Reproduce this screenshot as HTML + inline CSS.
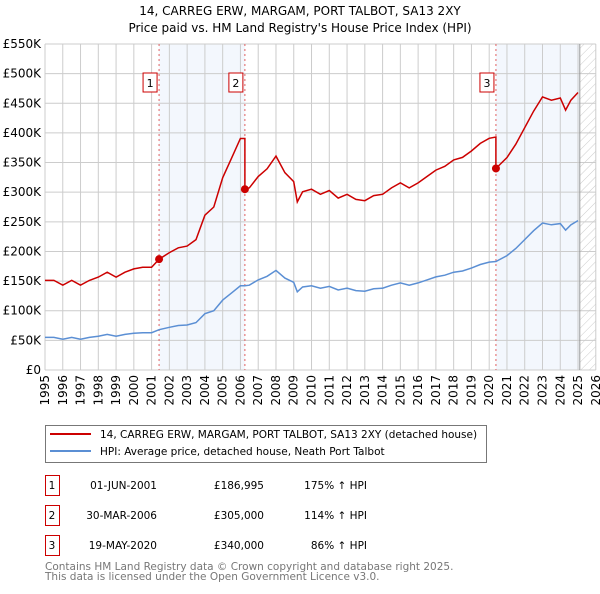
<!DOCTYPE html>
<html><head><meta charset="utf-8"><style>
body{margin:0;background:#fff;font-family:"DejaVu Sans","Liberation Sans",sans-serif}
</style></head><body>
<svg id="s" width="600" height="590" viewBox="0 0 600 590" xmlns="http://www.w3.org/2000/svg" font-family="DejaVu Sans, Liberation Sans, sans-serif">
<text x="300" y="15" font-size="12" text-anchor="middle">14, CARREG ERW, MARGAM, PORT TALBOT, SA13 2XY</text>
<text x="300" y="32" font-size="12" text-anchor="middle">Price paid vs. HM Land Registry's House Price Index (HPI)</text>
<g id="plot"></g>
<g>
<rect x="45.5" y="425.5" width="441" height="37" fill="#fff" stroke="#777"/>
<line x1="50" y1="434" x2="91" y2="434" stroke="#cc0000" stroke-width="2"/>
<text x="100" y="438" font-size="10.5">14, CARREG ERW, MARGAM, PORT TALBOT, SA13 2XY (detached house)</text>
<line x1="50" y1="451" x2="91" y2="451" stroke="#5b8fd4" stroke-width="2"/>
<text x="100" y="455" font-size="10.5">HPI: Average price, detached house, Neath Port Talbot</text>
</g>
<g id="table" font-size="10.5"></g>
<text x="45" y="570" font-size="10.5" fill="#777">Contains HM Land Registry data © Crown copyright and database right 2025.</text>
<text x="45" y="580" font-size="10.5" fill="#777">This data is licensed under the Open Government Licence v3.0.</text>
</svg>
<script>
const hpiYears=[1995,1995.5,1996,1996.5,1997,1997.5,1998,1998.5,1999,1999.5,2000,2000.5,2001,2001.42,2002,2002.5,2003,2003.5,2004,2004.5,2005,2005.5,2006,2006.25,2006.5,2007,2007.5,2008,2008.5,2009,2009.2,2009.5,2010,2010.5,2011,2011.5,2012,2012.5,2013,2013.5,2014,2014.5,2015,2015.5,2016,2016.5,2017,2017.5,2018,2018.5,2019,2019.5,2020,2020.38,2021,2021.5,2022,2022.5,2023,2023.5,2024,2024.3,2024.6,2025];
const hpiValues=[55,55,52,55,52,55,57,60,57,60,62,63,63,68,72,75,76,80,95,100,118,130,142,142,143,152,158,168,155,148,132,140,142,138,141,135,138,134,133,137,138,143,147,143,147,152,157,160,165,167,172,178,182,183,193,205,220,235,248,245,247,236,245,252];
const saleYears=[2001.42,2006.25,2020.38];
const salePrices=[186.995,305,340];
const saleLabels=["1","2","3"];
const saleDates=["01-JUN-2001","30-MAR-2006","19-MAY-2020"];
const salePriceText=["£186,995","£305,000","£340,000"];
const saleHpiText=["175% ↑ HPI","114% ↑ HPI","86% ↑ HPI"];
const yTicks=[0,50,100,150,200,250,300,350,400,450,500,550];
const yTickLabels=["£0","£50K","£100K","£150K","£200K","£250K","£300K","£350K","£400K","£450K","£500K","£550K"];
const xTicks=[1995,1996,1997,1998,1999,2000,2001,2002,2003,2004,2005,2006,2007,2008,2009,2010,2011,2012,2013,2014,2015,2016,2017,2018,2019,2020,2021,2022,2023,2024,2025,2026];

const NS="http://www.w3.org/2000/svg";
const X0=45,X1=595.8,Y0=370,Y1=44;
const x=v=>X0+(v-1995)/(2026-1995)*(X1-X0);
const y=v=>Y0-(v/550)*(Y0-Y1);
const plot=document.getElementById('plot');
function mk(tag,attrs,parent){const e=document.createElementNS(NS,tag);for(const k in attrs)e.setAttribute(k,attrs[k]);(parent||plot).appendChild(e);return e;}
function interp(t){for(let i=1;i<hpiYears.length;i++){if(t<=hpiYears[i]){const a=hpiYears[i-1],b=hpiYears[i];return hpiValues[i-1]+(hpiValues[i]-hpiValues[i-1])*(t-a)/(b-a);}}return hpiValues[hpiValues.length-1];}

// shaded ranges
let r=mk('rect',{x:x(saleYears[0]),y:Y1,width:x(saleYears[1])-x(saleYears[0]),height:Y0-Y1,fill:'#eef3fc',opacity:0.7});

r=mk('rect',{x:x(saleYears[2]),y:Y1,width:x(2025.1)-x(saleYears[2]),height:Y0-Y1,fill:'#eef3fc',opacity:0.7});

// hatch future
const defs=mk('defs',{});
const pat=mk('pattern',{id:'h',width:6,height:6,patternUnits:'userSpaceOnUse',patternTransform:'rotate(45)'},defs);
mk('line',{x1:0,y1:0,x2:0,y2:6,stroke:'#ccc','stroke-width':1},pat);
r=mk('rect',{x:x(2025.1),y:Y1,width:X1-x(2025.1),height:Y0-Y1,fill:'url(#h)'});

// grid
yTicks.forEach((v,i)=>{
 const l=mk('line',{x1:X0,x2:X1,y1:y(v),y2:y(v),stroke:'#ccc'});
 
 const t=mk('text',{x:X0-4,y:y(v)+4,'font-size':12,'text-anchor':'end'});t.textContent=yTickLabels[i];
 
});
xTicks.forEach(v=>{
 const l=mk('line',{x1:x(v),x2:x(v),y1:Y1,y2:Y0,stroke:'#ccc'});
 
 const t=mk('text',{x:0,y:0,'font-size':12,'text-anchor':'end',transform:`translate(${x(v)+4},${Y0+5}) rotate(-90)`});t.textContent=v;
 
});
const vl=mk('line',{x1:x(2025.1),x2:x(2025.1),y1:Y1,y2:Y0,stroke:'#999'});

// sale lines
saleYears.forEach((s,i)=>{
 const l=mk('line',{x1:x(s),x2:x(s),y1:Y1,y2:Y0,stroke:'#e06060','stroke-dasharray':'2,3'});
 
 const b=mk('rect',{x:x(s)-16,y:73,width:14,height:19,fill:'#fff',stroke:'#cc0000'});
 
 const t=mk('text',{x:x(s)-9,y:87,'font-size':11,'text-anchor':'middle'});t.textContent=saleLabels[i];
 
});
// hpi line
const hp=mk('path',{d:hpiYears.map((t,i)=>(i?'L':'M')+x(t).toFixed(1)+','+y(hpiValues[i]).toFixed(1)).join(''),fill:'none',stroke:'#5b8fd4','stroke-width':1.5});

// property line: HPI indexed to most recent sale
let d='';
hpiYears.forEach((t,i)=>{
 let k=0;for(let j=0;j<saleYears.length;j++)if(t>=saleYears[j])k=j;
 const ratio=salePrices[k]/interp(saleYears[k]);
 if(i>0&&k>0&&hpiYears[i-1]<saleYears[k]){
   const prev=salePrices[k-1]/interp(saleYears[k-1]);
   d+='L'+x(saleYears[k]).toFixed(1)+','+y(interp(saleYears[k])*prev).toFixed(1);
   d+='L'+x(saleYears[k]).toFixed(1)+','+y(salePrices[k]).toFixed(1);
 }
 d+=(i?'L':'M')+x(t).toFixed(1)+','+y(hpiValues[i]*ratio).toFixed(1);
});
const pp=mk('path',{d:d,fill:'none',stroke:'#cc0000','stroke-width':1.5});

saleYears.forEach((s,i)=>{
 const c=mk('circle',{cx:x(s),cy:y(salePrices[i]),r:4,fill:'#cc0000'});
 
});
// table
const tb=document.getElementById('table');
const rowY=[489,519,549];
saleYears.forEach((s,i)=>{
 const g=mk('g',{},tb);
 
 mk('rect',{x:45.5,y:rowY[i]-13.5,width:14,height:20,fill:'#fff',stroke:'#cc0000'},g);
 const vals=[[52,saleLabels[i],'middle'],[157,saleDates[i],'end'],[264,salePriceText[i],'end'],[367,saleHpiText[i],'end']];
 vals.forEach(v=>{const t=mk('text',{x:v[0],y:rowY[i],'text-anchor':v[2]},g);t.textContent=v[1];});
});
</script>
</body></html>
